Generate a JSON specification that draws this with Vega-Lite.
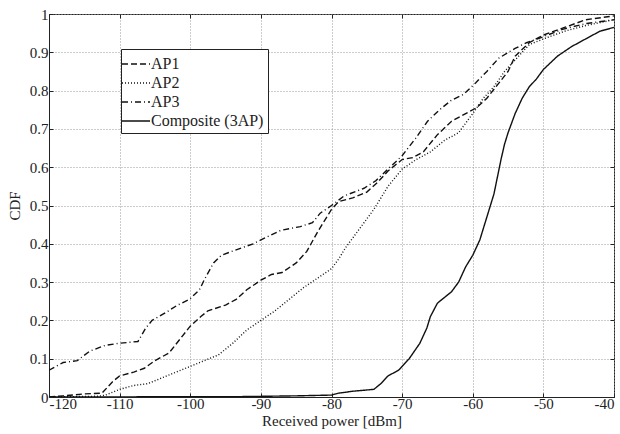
{
  "$schema": "https://vega.github.io/schema/vega-lite/v6.json",
  "width": 565,
  "height": 383,
  "autosize": {"type": "none"},
  "padding": {"left": 49, "top": 14, "right": 6, "bottom": 37},
  "background": "white",
  "config": {
    "font": "Times New Roman",
    "view": {"stroke": "#222", "strokeWidth": 1},
    "axis": {
      "labelFont": "Times New Roman",
      "titleFont": "Times New Roman",
      "labelFontSize": 15,
      "titleFontSize": 15,
      "labelColor": "#222",
      "titleColor": "#222",
      "titleFontWeight": "normal",
      "domainColor": "#222",
      "tickColor": "#222",
      "tickSize": -4,
      "gridColor": "#999",
      "gridDash": [1, 2],
      "gridOpacity": 1,
      "gridWidth": 1
    },
    "legend": {
      "labelFont": "Times New Roman",
      "labelFontSize": 16,
      "labelColor": "#222"
    }
  },
  "data": {
    "values": [
      {"s": "AP1", "x": -120, "y": 0}, {"s": "AP1", "x": -118, "y": 0.003}, {"s": "AP1", "x": -115, "y": 0.008}, {"s": "AP1", "x": -112.5, "y": 0.01},
      {"s": "AP1", "x": -111, "y": 0.04}, {"s": "AP1", "x": -110, "y": 0.055}, {"s": "AP1", "x": -108, "y": 0.065}, {"s": "AP1", "x": -106.5, "y": 0.075},
      {"s": "AP1", "x": -105, "y": 0.095}, {"s": "AP1", "x": -103, "y": 0.115}, {"s": "AP1", "x": -101.5, "y": 0.15}, {"s": "AP1", "x": -100, "y": 0.185},
      {"s": "AP1", "x": -98.5, "y": 0.21}, {"s": "AP1", "x": -97.5, "y": 0.225}, {"s": "AP1", "x": -95, "y": 0.24}, {"s": "AP1", "x": -93.5, "y": 0.255},
      {"s": "AP1", "x": -92, "y": 0.28}, {"s": "AP1", "x": -90, "y": 0.305}, {"s": "AP1", "x": -88.5, "y": 0.32}, {"s": "AP1", "x": -87, "y": 0.325},
      {"s": "AP1", "x": -85, "y": 0.35}, {"s": "AP1", "x": -83.5, "y": 0.38}, {"s": "AP1", "x": -82, "y": 0.43}, {"s": "AP1", "x": -80, "y": 0.49},
      {"s": "AP1", "x": -79, "y": 0.51}, {"s": "AP1", "x": -77, "y": 0.52}, {"s": "AP1", "x": -75, "y": 0.535}, {"s": "AP1", "x": -73.5, "y": 0.56},
      {"s": "AP1", "x": -72, "y": 0.59}, {"s": "AP1", "x": -70, "y": 0.62}, {"s": "AP1", "x": -68.5, "y": 0.625}, {"s": "AP1", "x": -67, "y": 0.64},
      {"s": "AP1", "x": -65, "y": 0.685}, {"s": "AP1", "x": -63, "y": 0.72}, {"s": "AP1", "x": -61, "y": 0.74}, {"s": "AP1", "x": -59.5, "y": 0.755},
      {"s": "AP1", "x": -58, "y": 0.78}, {"s": "AP1", "x": -56.5, "y": 0.815}, {"s": "AP1", "x": -55, "y": 0.85}, {"s": "AP1", "x": -54, "y": 0.89},
      {"s": "AP1", "x": -52, "y": 0.925}, {"s": "AP1", "x": -50, "y": 0.945}, {"s": "AP1", "x": -47, "y": 0.965}, {"s": "AP1", "x": -44, "y": 0.985},
      {"s": "AP1", "x": -40, "y": 0.995},

      {"s": "AP2", "x": -120, "y": 0}, {"s": "AP2", "x": -113, "y": 0.002}, {"s": "AP2", "x": -112, "y": 0.005}, {"s": "AP2", "x": -110, "y": 0.02},
      {"s": "AP2", "x": -108, "y": 0.03}, {"s": "AP2", "x": -106, "y": 0.035}, {"s": "AP2", "x": -104, "y": 0.05}, {"s": "AP2", "x": -102, "y": 0.065},
      {"s": "AP2", "x": -100, "y": 0.08}, {"s": "AP2", "x": -98, "y": 0.095}, {"s": "AP2", "x": -96, "y": 0.11}, {"s": "AP2", "x": -94, "y": 0.14},
      {"s": "AP2", "x": -92, "y": 0.175}, {"s": "AP2", "x": -90, "y": 0.2}, {"s": "AP2", "x": -88, "y": 0.225}, {"s": "AP2", "x": -86, "y": 0.255},
      {"s": "AP2", "x": -84, "y": 0.285}, {"s": "AP2", "x": -82, "y": 0.31}, {"s": "AP2", "x": -80, "y": 0.335}, {"s": "AP2", "x": -79, "y": 0.36},
      {"s": "AP2", "x": -78, "y": 0.39}, {"s": "AP2", "x": -76, "y": 0.44}, {"s": "AP2", "x": -74, "y": 0.49}, {"s": "AP2", "x": -72, "y": 0.55},
      {"s": "AP2", "x": -70, "y": 0.595}, {"s": "AP2", "x": -68, "y": 0.62}, {"s": "AP2", "x": -66, "y": 0.64}, {"s": "AP2", "x": -64, "y": 0.67},
      {"s": "AP2", "x": -62, "y": 0.69}, {"s": "AP2", "x": -60, "y": 0.74}, {"s": "AP2", "x": -58.5, "y": 0.78}, {"s": "AP2", "x": -57, "y": 0.81},
      {"s": "AP2", "x": -55.5, "y": 0.85}, {"s": "AP2", "x": -54, "y": 0.88}, {"s": "AP2", "x": -52, "y": 0.92}, {"s": "AP2", "x": -50, "y": 0.935},
      {"s": "AP2", "x": -47, "y": 0.955}, {"s": "AP2", "x": -44, "y": 0.97}, {"s": "AP2", "x": -40, "y": 0.985},

      {"s": "AP3", "x": -120, "y": 0.07}, {"s": "AP3", "x": -118, "y": 0.09}, {"s": "AP3", "x": -116, "y": 0.095}, {"s": "AP3", "x": -114.2, "y": 0.12},
      {"s": "AP3", "x": -112, "y": 0.135}, {"s": "AP3", "x": -110.2, "y": 0.14}, {"s": "AP3", "x": -107.4, "y": 0.145}, {"s": "AP3", "x": -106.3, "y": 0.18},
      {"s": "AP3", "x": -105.4, "y": 0.2}, {"s": "AP3", "x": -103.5, "y": 0.22}, {"s": "AP3", "x": -101.8, "y": 0.24}, {"s": "AP3", "x": -100.1, "y": 0.255},
      {"s": "AP3", "x": -98.7, "y": 0.28}, {"s": "AP3", "x": -97.9, "y": 0.31}, {"s": "AP3", "x": -96.7, "y": 0.35}, {"s": "AP3", "x": -95.6, "y": 0.37},
      {"s": "AP3", "x": -93.4, "y": 0.385}, {"s": "AP3", "x": -91.1, "y": 0.4}, {"s": "AP3", "x": -90, "y": 0.41}, {"s": "AP3", "x": -87.2, "y": 0.435},
      {"s": "AP3", "x": -84.4, "y": 0.445}, {"s": "AP3", "x": -82.7, "y": 0.455}, {"s": "AP3", "x": -81.6, "y": 0.48}, {"s": "AP3", "x": -80, "y": 0.5},
      {"s": "AP3", "x": -78.2, "y": 0.525}, {"s": "AP3", "x": -75.4, "y": 0.545}, {"s": "AP3", "x": -73.7, "y": 0.565}, {"s": "AP3", "x": -72, "y": 0.595},
      {"s": "AP3", "x": -70, "y": 0.63}, {"s": "AP3", "x": -68.1, "y": 0.675}, {"s": "AP3", "x": -66.4, "y": 0.72}, {"s": "AP3", "x": -64.7, "y": 0.75},
      {"s": "AP3", "x": -63, "y": 0.775}, {"s": "AP3", "x": -61.3, "y": 0.79}, {"s": "AP3", "x": -59.6, "y": 0.82}, {"s": "AP3", "x": -58, "y": 0.85},
      {"s": "AP3", "x": -56.3, "y": 0.885}, {"s": "AP3", "x": -54, "y": 0.91}, {"s": "AP3", "x": -52.4, "y": 0.925}, {"s": "AP3", "x": -50.1, "y": 0.94},
      {"s": "AP3", "x": -47.3, "y": 0.96}, {"s": "AP3", "x": -44, "y": 0.975}, {"s": "AP3", "x": -40, "y": 0.985},

      {"s": "Composite (3AP)", "x": -120, "y": 0}, {"s": "Composite (3AP)", "x": -93, "y": 0.001}, {"s": "Composite (3AP)", "x": -85, "y": 0.003},
      {"s": "Composite (3AP)", "x": -80, "y": 0.005}, {"s": "Composite (3AP)", "x": -79, "y": 0.01}, {"s": "Composite (3AP)", "x": -77, "y": 0.015},
      {"s": "Composite (3AP)", "x": -74, "y": 0.02}, {"s": "Composite (3AP)", "x": -73, "y": 0.035}, {"s": "Composite (3AP)", "x": -72, "y": 0.055},
      {"s": "Composite (3AP)", "x": -70.5, "y": 0.07}, {"s": "Composite (3AP)", "x": -69, "y": 0.1}, {"s": "Composite (3AP)", "x": -67.5, "y": 0.14},
      {"s": "Composite (3AP)", "x": -66.5, "y": 0.18}, {"s": "Composite (3AP)", "x": -66, "y": 0.21}, {"s": "Composite (3AP)", "x": -65, "y": 0.245},
      {"s": "Composite (3AP)", "x": -64, "y": 0.26}, {"s": "Composite (3AP)", "x": -63, "y": 0.275}, {"s": "Composite (3AP)", "x": -62, "y": 0.3},
      {"s": "Composite (3AP)", "x": -61, "y": 0.34}, {"s": "Composite (3AP)", "x": -60, "y": 0.37}, {"s": "Composite (3AP)", "x": -59, "y": 0.41},
      {"s": "Composite (3AP)", "x": -58, "y": 0.47}, {"s": "Composite (3AP)", "x": -57, "y": 0.53}, {"s": "Composite (3AP)", "x": -56, "y": 0.62},
      {"s": "Composite (3AP)", "x": -55.5, "y": 0.66}, {"s": "Composite (3AP)", "x": -55, "y": 0.69}, {"s": "Composite (3AP)", "x": -54, "y": 0.74},
      {"s": "Composite (3AP)", "x": -53, "y": 0.78}, {"s": "Composite (3AP)", "x": -52, "y": 0.81}, {"s": "Composite (3AP)", "x": -51, "y": 0.83},
      {"s": "Composite (3AP)", "x": -50, "y": 0.855}, {"s": "Composite (3AP)", "x": -48, "y": 0.89}, {"s": "Composite (3AP)", "x": -46, "y": 0.915},
      {"s": "Composite (3AP)", "x": -44, "y": 0.935}, {"s": "Composite (3AP)", "x": -42, "y": 0.955}, {"s": "Composite (3AP)", "x": -40, "y": 0.965}
    ]
  },
  "layer": [
    {
      "mark": {"type": "line", "color": "#111", "strokeOpacity": 0},
      "encoding": {
        "x": {"field": "x", "type": "quantitative", "scale": {"domain": [-120, -40], "nice": false},
          "axis": {"orient": "top", "title": null, "labels": false, "grid": false, "domain": false, "values": [-120, -110, -100, -90, -80, -70, -60, -50, -40]}},
        "y": {"field": "y", "type": "quantitative", "scale": {"domain": [0, 1], "nice": false},
          "axis": {"orient": "right", "title": null, "labels": false, "grid": false, "domain": false, "values": [0, 0.1, 0.2, 0.3, 0.4, 0.5, 0.6, 0.7, 0.8, 0.9, 1]}},
        "detail": {"field": "s"}
      }
    },
    {
      "mark": {"type": "line", "color": "#111", "strokeWidth": 1.4, "clip": true},
      "encoding": {
        "x": {
          "field": "x", "type": "quantitative",
          "scale": {"domain": [-120, -40], "nice": false},
          "axis": {"orient": "bottom", "title": "Received power [dBm]", "values": [-120, -110, -100, -90, -80, -70, -60, -50, -40], "labelExpr": "'' + datum.value", "titlePadding": 2, "labelPadding": 3, "grid": true}
        },
        "y": {
          "field": "y", "type": "quantitative",
          "scale": {"domain": [0, 1], "nice": false},
          "axis": {"orient": "left", "title": "CDF", "values": [0, 0.1, 0.2, 0.3, 0.4, 0.5, 0.6, 0.7, 0.8, 0.9, 1], "format": "~g", "titlePadding": 7, "labelPadding": 5, "grid": true}
        },
        "strokeDash": {
          "field": "s", "type": "nominal",
          "scale": {"domain": ["AP1", "AP2", "AP3", "Composite (3AP)"], "range": [[6, 3], [1, 2], [6, 3, 1, 3], [1, 0]]},
          "legend": {
            "title": null,
            "orient": "none",
            "legendX": 72,
            "legendY": 35,
            "symbolType": "M-1.4,0H1.4",
            "symbolStrokeColor": "#111",
            "symbolFillColor": "transparent",
            "symbolStrokeWidth": 1.4,
            "symbolSize": 400,
            "strokeColor": "#222",
            "fillColor": "white",
            "padding": 4,
            "rowPadding": -1,
            "labelOffset": 4
          }
        }
      }
    }
  ]
}
